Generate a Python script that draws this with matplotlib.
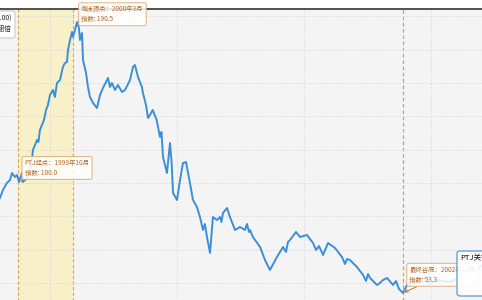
import numpy as np
import matplotlib
matplotlib.use('Agg')
import matplotlib.pyplot as plt
from matplotlib.patches import FancyBboxPatch

plt.rcParams['font.family'] = ['Noto Sans CJK SC', 'DejaVu Sans']

# index path, decimal year vs index level
years = [1999.606, 1999.630, 1999.661, 1999.685, 1999.701, 1999.724, 1999.740, 1999.756,
         1999.780, 1999.787, 1999.819, 1999.843, 1999.858, 1999.866, 1999.898, 1999.909,
         1999.921, 1999.937, 1999.953, 1999.969, 1999.984, 2000.000, 2000.024, 2000.039,
         2000.055, 2000.079, 2000.102, 2000.118, 2000.134, 2000.142, 2000.158, 2000.173,
         2000.181, 2000.197, 2000.213, 2000.228, 2000.236, 2000.252, 2000.260, 2000.284,
         2000.299, 2000.315, 2000.339, 2000.370, 2000.394, 2000.417, 2000.457, 2000.472,
         2000.488, 2000.512, 2000.535, 2000.567, 2000.591, 2000.630, 2000.654, 2000.669,
         2000.693, 2000.724, 2000.732, 2000.756, 2000.772, 2000.787, 2000.809, 2000.840,
         2000.866, 2000.878, 2000.890, 2000.921, 2000.945, 2000.958, 2000.969, 2001.000,
         2001.024, 2001.047, 2001.071, 2001.102, 2001.126, 2001.157, 2001.181, 2001.205,
         2001.220, 2001.236, 2001.260, 2001.283, 2001.315, 2001.339, 2001.350, 2001.362,
         2001.394, 2001.417, 2001.457, 2001.496, 2001.535, 2001.551, 2001.567, 2001.575,
         2001.598, 2001.654, 2001.693, 2001.732, 2001.787, 2001.835, 2001.858, 2001.874,
         2001.890, 2001.937, 2001.969, 2002.024, 2002.071, 2002.095, 2002.118, 2002.150,
         2002.189, 2002.244, 2002.299, 2002.323, 2002.339, 2002.362, 2002.417, 2002.465,
         2002.488, 2002.504, 2002.520, 2002.575, 2002.598, 2002.622, 2002.654, 2002.701,
         2002.724, 2002.748, 2002.780, 2002.811, 2002.890, 2002.940, 2002.990, 2003.047,
         2003.150, 2003.228, 2003.307, 2003.402]
index = [91.0, 95.8, 100.0, 101.8, 106.0, 103.6, 104.8, 100.6,
         106.0, 100.6, 103.0, 107.8, 113.8, 119.8, 125.8, 124.6,
         131.8, 134.8, 137.8, 143.8, 146.8, 152.8, 155.8, 151.6,
         160.0, 161.8, 169.6, 172.0, 172.6, 179.8, 185.8, 190.6,
         187.6, 191.8, 196.6, 193.0, 185.8, 190.0, 173.8, 166.0,
         157.6, 151.6, 148.0, 145.0, 152.8, 157.0, 163.0, 157.6,
         160.0, 155.8, 158.8, 154.6, 155.8, 161.8, 169.6, 170.8,
         163.6, 157.6, 154.0, 146.8, 139.0, 140.8, 143.8, 137.8,
         127.6, 130.6, 115.6, 106.0, 124.0, 112.0, 94.0, 89.8,
         101.8, 112.0, 112.6, 100.0, 89.8, 85.6, 79.6, 71.8,
         75.4, 67.6, 58.0, 79.6, 77.8, 79.6, 76.6, 82.0,
         85.0, 79.6, 71.8, 73.6, 71.8, 75.4, 70.6, 71.8,
         67.6, 61.6, 53.8, 47.8, 55.6, 61.6, 58.6, 64.6,
         65.8, 70.6, 67.6, 68.8, 64.0, 59.8, 62.2, 56.8,
         64.0, 61.0, 55.6, 51.4, 54.4, 53.8, 49.6, 44.8,
         41.2, 45.4, 43.0, 38.8, 40.0, 41.8, 43.0, 38.8,
         41.2, 36.4, 34.0, 38.8, 40.6, 43.0, 39.4, 41.8,
         40.6, 43.6, 44.8, 50.8]

bubble_start = 1999.75
bubble_end = 2000.18
start_label = 'PTJ起点：1999年10月\n指数: 100.0'
peak_label = '泡沫顶点：2000年3月\n指数: 190.5'
bottom_label = '最终谷底：2002年10月\n指数: 53.3'
legend_lines = ['纳指走势 (起点=100)', '泡沫期翻倍']
box_title = 'PTJ关键节点'

years = np.array(years)
index = np.array(index)

fig = plt.figure(figsize=(4.82, 3.0), dpi=100)
ax = fig.add_axes([-0.1, -0.1, 1.2, 1.07])
ax.set_facecolor('#f4f4f4')
ax.set_xlim(1999.227, 2003.781)
ax.set_ylim(11.8, 204.4)

ax.set_xticks([2000, 2001, 2002, 2003])
ax.set_yticks(np.arange(40, 201, 20))
ax.grid(True, color='#dadada', linestyle=(0, (2, 2)), linewidth=0.6)
ax.tick_params(length=0, labelbottom=False, labelleft=False)
for s in ['left', 'right', 'bottom']:
    ax.spines[s].set_visible(False)
ax.spines['top'].set_color('#333333')
ax.spines['top'].set_linewidth(1.2)

ax.axvspan(bubble_start, bubble_end, color='#f8f0c9', zorder=0.5)
for xv in (bubble_start, bubble_end):
    ax.axvline(xv, color='#d9a45e', linestyle=(0, (3, 2)), linewidth=0.8, zorder=0.6)

i_peak = int(np.argmax(index))
i_low = int(np.argmin(index))
i_start = int(np.argmin(np.abs(years - bubble_start)))
ax.axvline(years[i_low], color='#e39a5c', linestyle=(0, (3, 2)), linewidth=0.9, zorder=0.6)

ax.plot(years, index, color='#3b8fd8', linewidth=1.4, zorder=2)

txt_kw = dict(fontsize=4.6, color='#b56a26', ha='left', va='top', linespacing=1.3,
              textcoords='offset points', zorder=5,
              bbox=dict(boxstyle='round,pad=0.4,rounding_size=0.3', fc='white',
                        ec='#e2ad78', lw=0.8, alpha=0.85),
              arrowprops=dict(arrowstyle='->', color='#c47a36', lw=0.7,
                              shrinkA=0, shrinkB=1))
ax.annotate(peak_label, xy=(years[i_peak], index[i_peak]), xytext=(3, 12), **txt_kw)
ax.annotate(start_label, xy=(years[i_start], index[i_start]), xytext=(4, 16.5), **txt_kw)
ax.annotate(bottom_label, xy=(years[i_low], index[i_low]), xytext=(4.5, 19.5), **txt_kw)

# legend box cut at the left edge, as in the source screenshot
fig.patches.append(FancyBboxPatch((-0.05, 1 - 38 / 300), 0.05 + 15 / 482, 27 / 300,
                                  boxstyle='round,pad=0,rounding_size=0.006',
                                  transform=fig.transFigure, fc='white', ec='#cccccc',
                                  lw=0.8, zorder=6))
fig.text(12 / 482, 1 - 18 / 300, legend_lines[0], fontsize=5, ha='right', va='center',
         color='#222222', zorder=7)
fig.text(12 / 482, 1 - 29 / 300, legend_lines[1], fontsize=5, ha='right', va='center',
         color='#222222', zorder=7)

# key points box cut at the right edge
fig.patches.append(FancyBboxPatch((457 / 482, 4 / 300), 0.2, 45 / 300,
                                  boxstyle='round,pad=0,rounding_size=0.008',
                                  transform=fig.transFigure, fc='white', ec='#5b9bd5',
                                  lw=1.0, alpha=0.9, zorder=6))
fig.text(460 / 482, 1 - 258 / 300, box_title, fontsize=5.5, ha='left', va='center',
         color='#111111', zorder=7)

fig.savefig('out.png', dpi=100)
